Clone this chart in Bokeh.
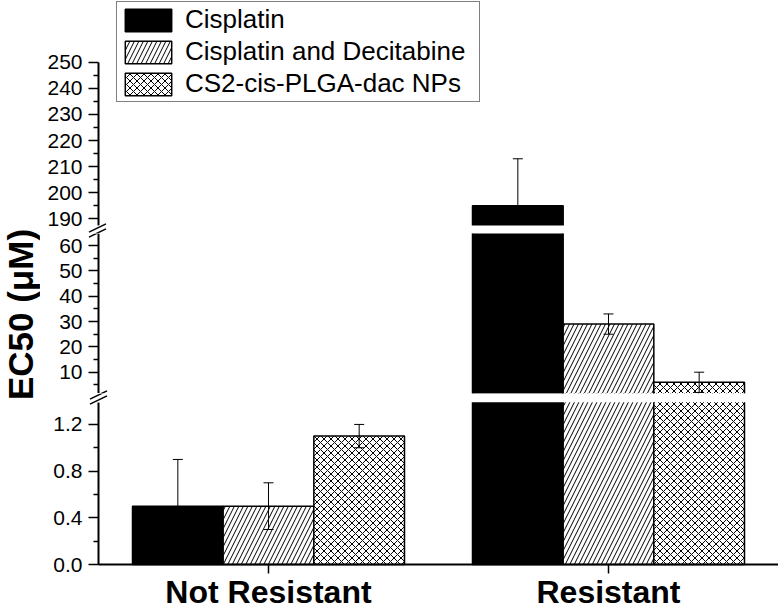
from math import pi
from bokeh.plotting import figure
from bokeh.models import (ColumnDataSource, Range1d, FixedTicker, Whisker, TeeHead, Legend,
                          LegendItem, Arrow, Label, BoxAnnotation)
from bokeh.transform import dodge
from bokeh.layouts import row, column
from bokeh.embed import file_html
from bokeh.resources import INLINE

# ---------------- data ----------------
categories = ["Not Resistant", "Resistant"]
series_names = ["Cisplatin", "Cisplatin and Decitabine", "CS2-cis-PLGA-dac NPs"]
cisplatin = [0.5, 195]
cisplatin_err = [0.4, 18]
cis_dec = [0.5, 29]
cis_dec_err = [0.2, 4]
cs2_nps = [1.1, 6]
cs2_nps_err = [0.1, 4]

top_ticks = [190, 200, 210, 220, 230, 240, 250]
top_minor = [195, 205, 215, 225, 235, 245]
mid_ticks = [10, 20, 30, 40, 50, 60]
mid_minor = [5, 15, 25, 35, 45, 55]
bot_ticks = [0.0, 0.4, 0.8, 1.2]
bot_minor = [0.2, 0.6, 1.0]
bot_labels = ["0.0", "0.4", "0.8", "1.2"]

y_label = "EC50 (μM)"

# axis segments (data units)
TOP_RANGE, TOP_SEG = (184.37, 273.64), (187.4, 250)
MID_RANGE = (1.59, 64.76)
BOT_RANGE, BOT_SEG = (-0.394, 1.465), (0, 1.39)
X_RANGE = (0.34118, 2.5)
X_BOUNDS = (0.5, 2.5)

# ---------------- layout constants (pixels) ----------------
LABEL_W = 40
LEFT = 4
FRAME_W = 734
FIG_W = LEFT + FRAME_W
TOP_H, MID_H, BOT_H = 233, 160, 217
TOTAL_H = TOP_H + MID_H + BOT_H
FRAME_X0 = LABEL_W + LEFT

FONT = "Liberation Sans"
BAR_W = 0.8 / 3

positions = [i + 1 for i in range(len(categories))]

src = ColumnDataSource(dict(
    pos=positions,
    cis=cisplatin,
    cis_c=[v / 2 for v in cisplatin],
    cis_lo=[v - e for v, e in zip(cisplatin, cisplatin_err)],
    cis_hi=[v + e for v, e in zip(cisplatin, cisplatin_err)],
    dec=cis_dec,
    dec_c=[v / 2 for v in cis_dec],
    dec_lo=[v - e for v, e in zip(cis_dec, cis_dec_err)],
    dec_hi=[v + e for v, e in zip(cis_dec, cis_dec_err)],
    nps=cs2_nps,
    nps_c=[v / 2 for v in cs2_nps],
    nps_lo=[v - e for v, e in zip(cs2_nps, cs2_nps_err)],
    nps_hi=[v + e for v, e in zip(cs2_nps, cs2_nps_err)],
))

bar_styles = [
    dict(fill_color="black"),
    dict(fill_color="white", hatch_pattern="/", hatch_color="black", hatch_scale=9,
         hatch_weight=1),
    dict(fill_color="white", hatch_pattern="x", hatch_color="black", hatch_scale=7,
         hatch_weight=1),
]
bar_cols = [("cis", "cis_c", "cis_lo", "cis_hi"), ("dec", "dec_c", "dec_lo", "dec_hi"),
            ("nps", "nps_c", "nps_lo", "nps_hi")]
offsets = [-BAR_W, 0, BAR_W]


def make_fig(height, yr, ticks, minor, bounds):
    p = figure(width=FIG_W, height=height, x_range=Range1d(*X_RANGE),
               y_range=Range1d(*yr), output_backend="svg", toolbar_location=None,
               x_axis_location="below", min_border_left=LEFT, min_border_right=0,
               min_border_top=0, min_border_bottom=0)
    p.outline_line_color = None
    p.xgrid.visible = False
    p.ygrid.visible = False
    p.background_fill_color = "white"
    p.border_fill_color = "white"
    ya = p.yaxis[0]
    ya.fixed_location = X_BOUNDS[0]
    ya.ticker = FixedTicker(ticks=ticks, minor_ticks=minor)
    ya.bounds = bounds
    ya.axis_line_width = 2
    ya.major_tick_in = 0
    ya.major_tick_out = 10
    ya.minor_tick_in = 0
    ya.minor_tick_out = 5
    ya.major_tick_line_width = 1.5
    ya.minor_tick_line_width = 1.5
    ya.major_label_text_font = FONT
    ya.major_label_text_font_size = "21px"
    ya.major_label_text_color = "black"
    ya.major_label_standoff = 6

    rs = []
    for off, (top, ctr, lo, hi), sty in zip(offsets, bar_cols, bar_styles):
        rs.append(p.rect(x=dodge("pos", off), y=ctr, width=BAR_W, height=top,
                         source=src, line_color="black", line_width=1.5, **sty))
    for off, (top, ctr, lo, hi) in zip(offsets, bar_cols):
        p.add_layout(Whisker(base=dodge("pos", off), lower=lo, upper=hi,
                             source=src, line_width=1, line_color="black", level="annotation",
                             upper_head=TeeHead(size=10, line_width=1, line_color="black"),
                             lower_head=TeeHead(size=10, line_width=1, line_color="black")))
    return p, rs


def gap_band(p, **kw):
    p.add_layout(BoxAnnotation(left=X_BOUNDS[0], fill_color="white", fill_alpha=1,
                               line_color=None, level="overlay", **kw))


def page_to_data(px, py, frame_top, frame_bottom, yr):
    x = X_RANGE[0] + (px - FRAME_X0) / FRAME_W * (X_RANGE[1] - X_RANGE[0])
    y = yr[0] + (frame_bottom - py) / (frame_bottom - frame_top) * (yr[1] - yr[0])
    return x, y


def add_break(p, frame_top, frame_bottom, yr, cx, cy):
    for dy in (2.5, -2.5):
        x0, y0 = page_to_data(cx - 8.5, cy + dy + 4.2, frame_top, frame_bottom, yr)
        x1, y1 = page_to_data(cx + 8.5, cy + dy - 4.2, frame_top, frame_bottom, yr)
        p.add_layout(Arrow(start=None, end=None, x_start=x0, y_start=y0, x_end=x1, y_end=y1,
                           line_width=1.5, line_color="black", level="overlay"))


p_top, rs_top = make_fig(TOP_H, TOP_RANGE, top_ticks, top_minor, TOP_SEG)
p_mid, _ = make_fig(MID_H, MID_RANGE, mid_ticks, mid_minor, MID_RANGE)
p_bot, _ = make_fig(BOT_H, BOT_RANGE, bot_ticks, bot_minor, BOT_SEG)

for p in (p_top, p_mid):
    p.xaxis.visible = False

p_bot.yaxis[0].major_label_overrides = {t: s for t, s in zip(bot_ticks, bot_labels)}
xa = p_bot.xaxis[0]
xa.fixed_location = BOT_SEG[0]
xa.bounds = X_BOUNDS
xa.ticker = FixedTicker(ticks=positions, minor_ticks=[])
xa.major_label_overrides = {pos: c for pos, c in zip(positions, categories)}
xa.axis_line_width = 2
xa.major_tick_in = 0
xa.major_tick_out = 9
xa.minor_tick_out = 0
xa.major_tick_line_width = 1.5
xa.major_label_text_font = FONT
xa.major_label_text_font_size = "32px"
xa.major_label_text_font_style = "bold"
xa.major_label_text_color = "black"
xa.major_label_standoff = 0

# white gaps of the broken axis
gap_band(p_top, top=TOP_SEG[0])
gap_band(p_bot, bottom=BOT_SEG[1])

# axis break marks (page pixel centres), drawn in both neighbouring panels
UPPER_MARK = (97, 230)
LOWER_MARK = (98, 397)
add_break(p_top, 0, TOP_H, TOP_RANGE, *UPPER_MARK)
add_break(p_mid, TOP_H, TOP_H + MID_H, MID_RANGE, *UPPER_MARK)
add_break(p_mid, TOP_H, TOP_H + MID_H, MID_RANGE, *LOWER_MARK)
add_break(p_bot, TOP_H + MID_H, TOTAL_H, BOT_RANGE, *LOWER_MARK)

legend = Legend(items=[LegendItem(label=n, renderers=[r]) for n, r in zip(series_names, rs_top)],
                location=(72, 131), label_text_font=FONT, label_text_font_size="26px",
                label_text_color="black", glyph_width=58, glyph_height=28, label_height=28,
                label_width=292, label_standoff=8, spacing=1, padding=2, margin=0,
                border_line_color="black", border_line_width=1.5,
                background_fill_color="white", background_fill_alpha=1)
p_top.add_layout(legend)

# y-axis title holder
p_lab = figure(width=LABEL_W, height=TOTAL_H, x_range=Range1d(0, LABEL_W),
               y_range=Range1d(0, TOTAL_H), output_backend="svg", toolbar_location=None,
               x_axis_location=None, y_axis_location=None, min_border=0)
p_lab.outline_line_color = None
p_lab.xgrid.visible = False
p_lab.ygrid.visible = False
p_lab.add_layout(Label(x=LABEL_W / 2, y=TOTAL_H - 314, text=y_label, angle=pi / 2,
                       text_align="center", text_baseline="middle", text_font=FONT,
                       text_font_size="35px", text_font_style="bold", text_color="black"))

layout = row(p_lab, column(p_top, p_mid, p_bot))

with open("out.html", "w") as f:
    f.write(file_html(layout, INLINE))
